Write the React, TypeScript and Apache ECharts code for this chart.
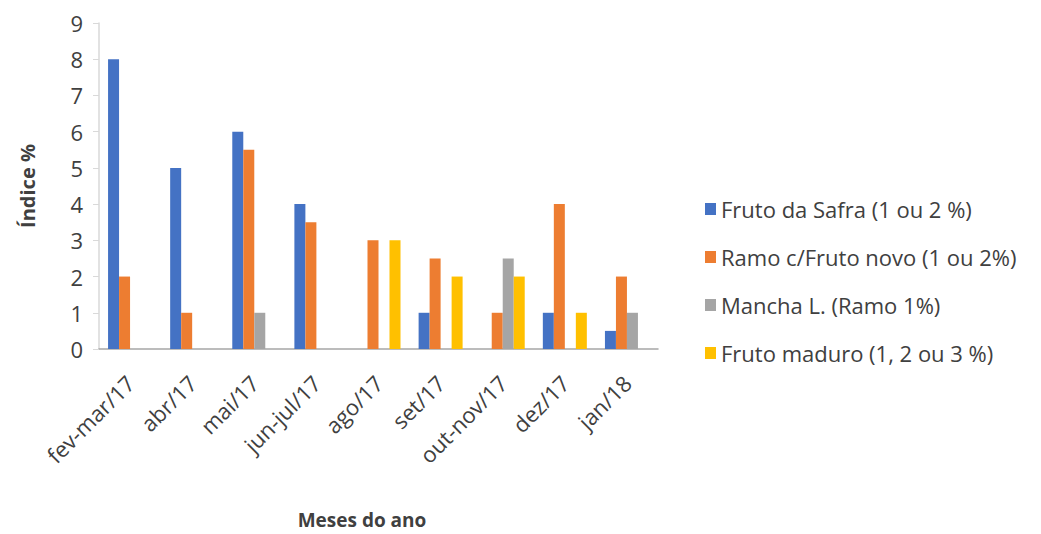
import React, { useEffect, useRef } from "react";
import * as echarts from "echarts";

const categories = ["fev-mar/17", "abr/17", "mai/17", "jun-jul/17", "ago/17", "set/17", "out-nov/17", "dez/17", "jan/18"];
const frutoSafra = [8, 5, 6, 4, null, 1, null, 1, 0.5];
const ramoFruto = [2, 1, 5.5, 3.5, 3, 2.5, 1, 4, 2];
const manchaL = [null, null, 1, null, null, null, 2.5, null, 1];
const frutoMaduro = [null, null, null, null, 3, 2, 2, 1, null];
const seriesNames = [
  "Fruto da Safra (1 ou 2 %)",
  "Ramo c/Fruto novo (1 ou 2%)",
  "Mancha L. (Ramo 1%)",
  "Fruto maduro (1, 2 ou 3 %)",
];
const colors = ["#4472C4", "#ED7D31", "#A5A5A5", "#FFC000"];
const yTicks = [0, 9, 1];

const FONT = "'Open Sans', 'Noto Sans', sans-serif";

export default function App() {
  const ref = useRef<HTMLDivElement>(null);
  useEffect(() => {
    if (!ref.current) return;
    const chart = echarts.init(ref.current, null, { renderer: "svg" });
    const data = [frutoSafra, ramoFruto, manchaL, frutoMaduro];
    chart.setOption({
      animation: false,
      backgroundColor: "#ffffff",
      textStyle: { fontFamily: FONT },
      grid: { left: 99, right: 383, top: 23, bottom: 185, containLabel: false },
      legend: {
        orient: "vertical",
        left: 700,
        top: 192,
        itemWidth: 11,
        itemHeight: 12,
        itemGap: 24,
        icon: "rect",
        data: seriesNames,
        textStyle: { fontFamily: FONT, fontSize: 22, color: "#404040", lineHeight: 24 },
      },
      xAxis: {
        type: "category",
        data: categories,
        axisLine: { lineStyle: { color: "#a6a6a6", width: 1.5 } },
        axisTick: { show: false },
        axisLabel: {
          rotate: 45,
          interval: 0,
          fontFamily: FONT,
          fontSize: 22,
          color: "#404040",
          margin: 30,
        },
      },
      yAxis: {
        type: "value",
        min: yTicks[0],
        max: yTicks[1],
        interval: yTicks[2],
        name: "Índice %",
        nameLocation: "middle",
        nameRotate: 90,
        nameGap: 62,
        nameTextStyle: { fontFamily: FONT, fontSize: 20, fontWeight: "bold", color: "#404040" },
        axisLine: { show: true, lineStyle: { color: "#d9d9d9", width: 1.5 } },
        axisTick: { show: true, length: 6, lineStyle: { color: "#d9d9d9" } },
        splitLine: { show: false },
        axisLabel: { fontFamily: FONT, fontSize: 22, color: "#404040", margin: 16 },
      },
      graphic: [
        {
          type: "text",
          x: 362,
          y: 510,
          style: {
            text: "Meses do ano",
            textAlign: "center",
            fontFamily: FONT,
            fontSize: 19,
            fontWeight: "bold",
            fill: "#404040",
          },
        },
      ],
      series: data.map((d, i) => ({
        type: "bar",
        name: seriesNames[i],
        data: d,
        barWidth: 11,
        barGap: "0%",
        itemStyle: { color: colors[i] },
      })),
    });
    return () => chart.dispose();
  }, []);
  return (
    <div
      ref={ref}
      style={{ position: "fixed", left: 0, top: 0, width: 1041, height: 534, background: "#fff" }}
    />
  );
}
